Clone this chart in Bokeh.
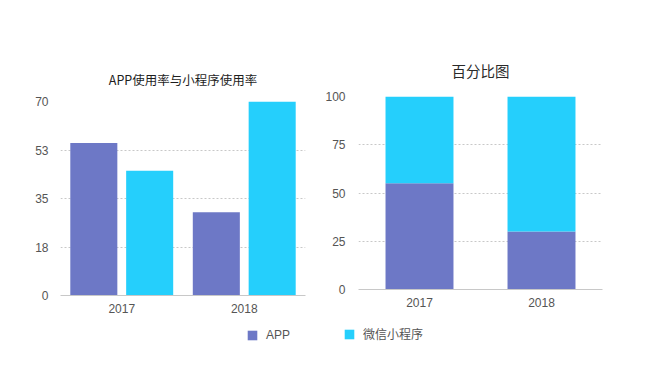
from bokeh.plotting import figure
from bokeh.models import (FactorRange, Range1d, FixedTicker, PrintfTickFormatter,
                          Title, Legend, LegendItem, ColumnDataSource)
from bokeh.transform import dodge
from bokeh.layouts import column, row
from bokeh.embed import file_html
from bokeh.resources import INLINE

# ---- data ----
years = ["2017", "2018"]
app_rate = [55, 30]
mini_rate = [45, 70]
usage_ticks = [0, 17.5, 35, 52.5, 70]
pct_ticks = [0, 25, 50, 75, 100]
title1 = "APP使用率与小程序使用率"
title2 = "百分比图"
series_names = ["APP", "微信小程序"]

APP_COLOR = "#6d78c6"
MINI_COLOR = "#25cffc"
CJK = "Noto Sans CJK SC"
LATIN = "Liberation Sans"
TICK_COLOR = "#555555"
GRID_COLOR = "#c8c8c8"

# percent shares
totals = [a + m for a, m in zip(app_rate, mini_rate)]
app_pct = [a / t * 100 for a, t in zip(app_rate, totals)]
mini_pct = [m / t * 100 for m, t in zip(mini_rate, totals)]

src = ColumnDataSource(dict(year=years, app=app_rate, mini=mini_rate,
                            app_pct=app_pct, top_pct=[a + m for a, m in zip(app_pct, mini_pct)]))


def style(p, ticks, ystandoff):
    p.outline_line_color = None
    p.xgrid.grid_line_color = None
    p.ygrid.grid_line_color = GRID_COLOR
    p.ygrid.grid_line_dash = "2 2"
    p.ygrid.ticker = FixedTicker(ticks=ticks)
    p.yaxis.ticker = FixedTicker(ticks=ticks)
    p.yaxis.formatter = PrintfTickFormatter(format="%.0f")
    p.yaxis.axis_line_color = None
    p.yaxis.major_tick_line_color = None
    p.yaxis.minor_tick_line_color = None
    p.yaxis.major_tick_out = 0
    p.yaxis.major_label_standoff = ystandoff
    p.xaxis.axis_line_color = "#c8c8c8"
    p.xaxis.major_tick_line_color = None
    p.xaxis.minor_tick_line_color = None
    p.xaxis.major_label_standoff = 2
    for ax in (p.xaxis[0], p.yaxis[0]):
        ax.major_label_text_font = LATIN
        ax.major_label_text_font_size = "12px"
        ax.major_label_text_color = TICK_COLOR
    p.background_fill_color = "white"
    p.border_fill_color = "white"


# ---- chart 1: grouped bars ----
p1 = figure(width=320, height=325, x_range=FactorRange(*years), y_range=Range1d(0, 70),
            output_backend="svg", toolbar_location=None,
            min_border_left=60, min_border_right=15, min_border_top=101, min_border_bottom=30)
p1.vbar(x=dodge("year", -0.228, range=p1.x_range), top="app", width=0.384,
        source=src, fill_color=APP_COLOR, line_color=None)
p1.vbar(x=dodge("year", 0.228, range=p1.x_range), top="mini", width=0.384,
        source=src, fill_color=MINI_COLOR, line_color=None)
style(p1, usage_ticks, 12)
p1.add_layout(Title(text=title1, align="center", text_font=CJK, text_font_size="12.5px",
                    text_font_style="normal", text_color="#1e1e1e", standoff=25), "above")

# ---- chart 2: 100% stacked ----
p2 = figure(width=328, height=325, x_range=FactorRange(*years), y_range=Range1d(0, 100),
            output_backend="svg", toolbar_location=None,
            min_border_left=38, min_border_right=46, min_border_top=96, min_border_bottom=36)
p2.vbar(x="year", bottom=0, top="app_pct", width=0.557, source=src,
        fill_color=APP_COLOR, line_color=None)
p2.vbar(x="year", bottom="app_pct", top="top_pct", width=0.557, source=src,
        fill_color=MINI_COLOR, line_color=None)
style(p2, pct_ticks, 13)
p2.add_layout(Title(text=title2, align="center", text_font=CJK, text_font_size="14.5px",
                    text_font_style="normal", text_color="#2a2a2a", standoff=31), "above")

# ---- legend strip ----
leg = figure(width=648, height=67, x_range=Range1d(0, 1), y_range=Range1d(0, 1),
             output_backend="svg", toolbar_location=None,
             min_border=0, x_axis_type=None, y_axis_type=None)
leg.outline_line_color = None
leg.grid.grid_line_color = None
nan = float("nan")
d_app = leg.rect(x=[nan], y=[nan], width=1, height=1, fill_color=APP_COLOR, line_color=None)
d_mini = leg.rect(x=[nan], y=[nan], width=1, height=1, fill_color=MINI_COLOR, line_color=None)
for name, rend, loc, font in [(series_names[0], d_app, (246, 50), LATIN),
                              (series_names[1], d_mini, (343, 50), CJK)]:
    lg = Legend(items=[LegendItem(label=name, renderers=[rend])], location=loc,
                orientation="horizontal", glyph_width=12, glyph_height=12,
                label_standoff=8, padding=0, margin=0, border_line_color=None,
                background_fill_alpha=0, label_text_font=font, label_text_font_size="12px",
                label_text_color=TICK_COLOR, label_height=12)
    leg.add_layout(lg, "center")

layout = column(row(column(p1), column(p2), spacing=0), leg, spacing=0)

open("out.html", "w").write(file_html(layout, INLINE))
